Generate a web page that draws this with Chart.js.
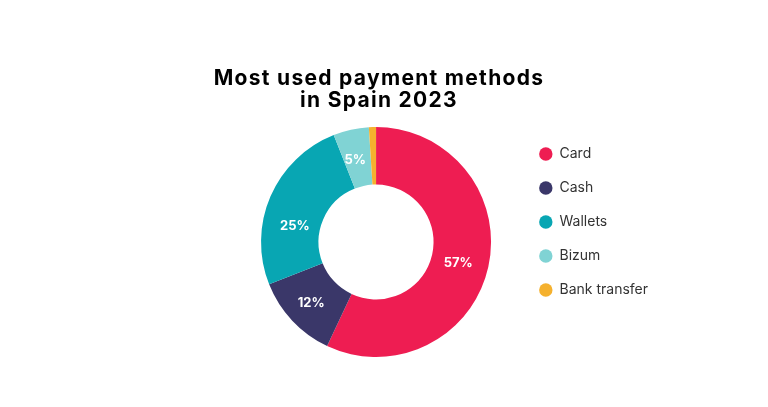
<!DOCTYPE html>
<html>
<head>
<meta charset="utf-8">
<script src="https://cdn.jsdelivr.net/npm/chart.js@4/dist/chart.umd.min.js"></script>
<style>
  html, body { margin: 0; padding: 0; background: #ffffff; }
  #wrap { width: 768px; height: 407px; position: relative; }
</style>
</head>
<body>
<div id="wrap"><canvas id="chart"></canvas></div>
<script>
const titleLines = ['Most used payment methods', 'in Spain 2023'];
const methods = ['Card', 'Cash', 'Wallets', 'Bizum', 'Bank transfer'];
const shares = [57, 12, 25, 5, 1];
const sliceColors = ['#EE1D52', '#3A3769', '#08A6B3', '#80D3D4', '#F5B12E'];

// the original nudges the Wallets label down a bit
const labelShift = { Wallets: 16 };

// title drawn by hand so the narrow chart area does not squeeze it
const titlePlugin = {
    id: 'titleText',
    afterDraw(chart) {
        const ctx = chart.ctx;
        ctx.save();
        ctx.fillStyle = '#000000';
        ctx.font = 'bold 21px Inter, "Open Sans", sans-serif';
        ctx.letterSpacing = '1.3px';
        ctx.textAlign = 'center';
        ctx.textBaseline = 'alphabetic';
        titleLines.forEach((line, i) => ctx.fillText(line, 379, 85 + i * 22));
        ctx.restore();
    }
};

// percentage labels in the middle of each slice
const sliceLabels = {
    id: 'sliceLabels',
    afterDatasetsDraw(chart) {
        const ctx = chart.ctx;
        const meta = chart.getDatasetMeta(0);
        ctx.save();
        ctx.fillStyle = '#ffffff';
        ctx.font = 'bold 13px Inter, "Open Sans", sans-serif';
        ctx.textAlign = 'center';
        ctx.textBaseline = 'middle';
        meta.data.forEach((arc, i) => {
            if (shares[i] < 3) return;
            const p = arc.tooltipPosition();
            ctx.fillText(shares[i] + '%', p.x - 2, p.y + 2 + (labelShift[methods[i]] || 0));
        });
        ctx.restore();
    }
};

const ctx = document.getElementById('chart');
new Chart(ctx, {
    type: 'doughnut',
    data: {
        labels: methods,
        datasets: [{
            data: shares,
            backgroundColor: sliceColors,
            borderWidth: 0,
            hoverOffset: 0
        }]
    },
    options: {
        responsive: true,
        maintainAspectRatio: false,
        animation: false,
        cutout: '50%',
        layout: { padding: { top: 127, bottom: 50, left: 233, right: 110 } },
        plugins: {
            title: { display: false },
            tooltip: { enabled: false },
            legend: {
                position: 'right',
                align: 'start',
                labels: {
                    usePointStyle: true,
                    pointStyle: 'circle',
                    boxHeight: 9.5,
                    pointStyleWidth: 13.4,
                    padding: 20,
                    color: '#333333',
                    font: { family: 'Inter, "Open Sans", sans-serif', size: 14 }
                }
            }
        }
    },
    plugins: [titlePlugin, sliceLabels]
});
</script>
</body>
</html>
